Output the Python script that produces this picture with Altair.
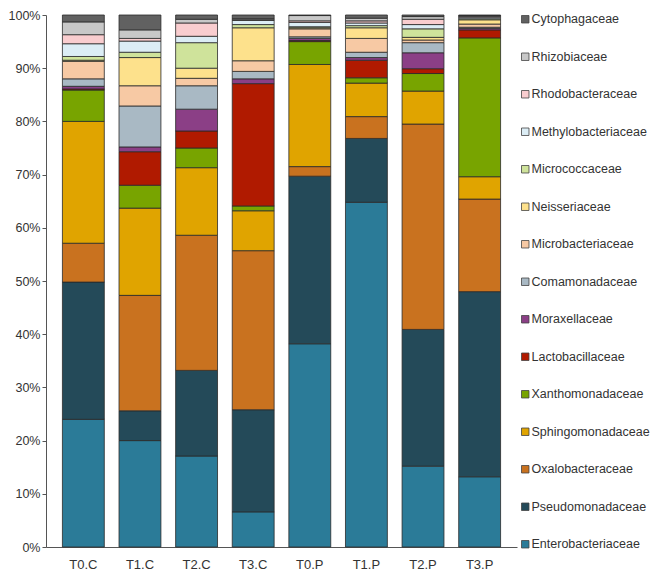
import altair as alt
import pandas as pd

samples = ["T0.C", "T1.C", "T2.C", "T3.C", "T0.P", "T1.P", "T2.P", "T3.P"]

# families listed from the bottom of each stack to the top
families = [
    "Enterobacteriaceae", "Pseudomonadaceae", "Oxalobacteraceae", "Sphingomonadaceae",
    "Xanthomonadaceae", "Lactobacillaceae", "Moraxellaceae", "Comamonadaceae",
    "Microbacteriaceae", "Neisseriaceae", "Micrococcaceae", "Methylobacteriaceae",
    "Rhodobacteraceae", "Rhizobiaceae", "Cytophagaceae",
]

enterobacteriaceae = [24.0, 20.0, 17.1, 6.6, 38.2, 64.8, 15.2, 13.2]
pseudomonadaceae = [25.8, 5.6, 16.1, 19.2, 31.5, 12.0, 25.7, 34.8]
oxalobacteraceae = [7.3, 21.7, 25.4, 29.9, 1.8, 4.1, 38.6, 17.4]
sphingomonadaceae = [22.9, 16.4, 12.7, 7.5, 19.2, 6.3, 6.2, 4.2]
xanthomonadaceae = [5.9, 4.3, 3.7, 0.9, 4.3, 1.0, 3.3, 26.1]
lactobacillaceae = [0.2, 6.3, 3.2, 23.0, 0.2, 3.3, 0.9, 1.5]
moraxellaceae = [0.5, 0.9, 4.1, 0.9, 0.4, 0.5, 3.0, 0.3]
comamonadaceae = [1.4, 7.7, 4.4, 1.4, 0.3, 1.0, 1.9, 0.2]
microbacteriaceae = [3.3, 3.8, 1.4, 2.0, 1.5, 2.6, 0.5, 0.6]
neisseriaceae = [0.2, 5.3, 1.9, 6.2, 0.2, 2.0, 0.5, 0.8]
micrococcaceae = [0.7, 1.0, 4.8, 0.6, 0.2, 0.4, 1.6, 0.2]
methylobacteriaceae = [2.4, 2.1, 1.2, 0.8, 0.8, 0.5, 0.8, 0.3]
rhodobacteraceae = [1.7, 0.5, 2.5, 0.1, 0.3, 0.4, 1.0, 0.1]
rhizobiaceae = [2.4, 1.6, 0.7, 0.2, 1.0, 0.5, 0.5, 0.2]
cytophagaceae = [1.3, 2.8, 0.8, 0.7, 0.1, 0.6, 0.3, 0.1]

series = [
    enterobacteriaceae, pseudomonadaceae, oxalobacteraceae, sphingomonadaceae,
    xanthomonadaceae, lactobacillaceae, moraxellaceae, comamonadaceae,
    microbacteriaceae, neisseriaceae, micrococcaceae, methylobacteriaceae,
    rhodobacteraceae, rhizobiaceae, cytophagaceae,
]

colors = [
    "#2b7b98", "#244a59", "#c9721f", "#e0a400", "#78a400", "#b01a00",
    "#8b3f86", "#a9b9c4", "#f7c9a4", "#fde18c", "#cfe39b", "#dcedf5",
    "#f9cdcf", "#c8c8c8", "#616161",
]

y_ticks = [i / 10 for i in range(11)]

rows = []
for i, (fam, vals) in enumerate(zip(families, series)):
    for s, v in zip(samples, vals):
        rows.append({"sample": s, "family": fam, "value": v, "order": i})
df = pd.DataFrame(rows)

chart = (
    alt.Chart(df)
    .mark_bar(stroke="#2a2a2a", strokeWidth=0.8)
    .encode(
        x=alt.X(
            "sample:N",
            sort=samples,
            scale=alt.Scale(paddingInner=0.26, paddingOuter=0.29),
            axis=alt.Axis(title=None, labelAngle=0, ticks=False, labelPadding=11,
                          labelFontSize=13, labelColor="#333333",
                          domainColor="#555555"),
        ),
        y=alt.Y(
            "value:Q",
            stack="normalize",
            scale=alt.Scale(domain=[0, 1], nice=False),
            axis=alt.Axis(title=None, format="%", values=y_ticks, grid=False,
                          tickSize=4, labelPadding=2, labelFontSize=12.5,
                          labelColor="#333333", domainColor="#555555",
                          tickColor="#555555"),
        ),
        color=alt.Color(
            "family:N",
            scale=alt.Scale(domain=families[::-1], range=colors[::-1]),
            legend=alt.Legend(
                title=None, orient="none", legendX=473, legendY=-2,
                symbolType="square", symbolSize=56, symbolStrokeColor="#444444",
                symbolStrokeWidth=0.8, labelFontSize=12.5, labelColor="#333333",
                labelOffset=0, rowPadding=24.5, padding=0, labelLimit=300,
            ),
        ),
        order=alt.Order("order:Q", sort="ascending"),
    )
    .properties(
        width=471,
        height=532,
        padding={"left": 38, "top": 7, "right": 135, "bottom": 26},
        autosize=alt.AutoSizeParams(type="none"),
    )
    .configure(font="Liberation Sans")
    .configure_view(stroke=None)
)

chart.save("out.html", embed_options={"renderer": "svg", "actions": False})
